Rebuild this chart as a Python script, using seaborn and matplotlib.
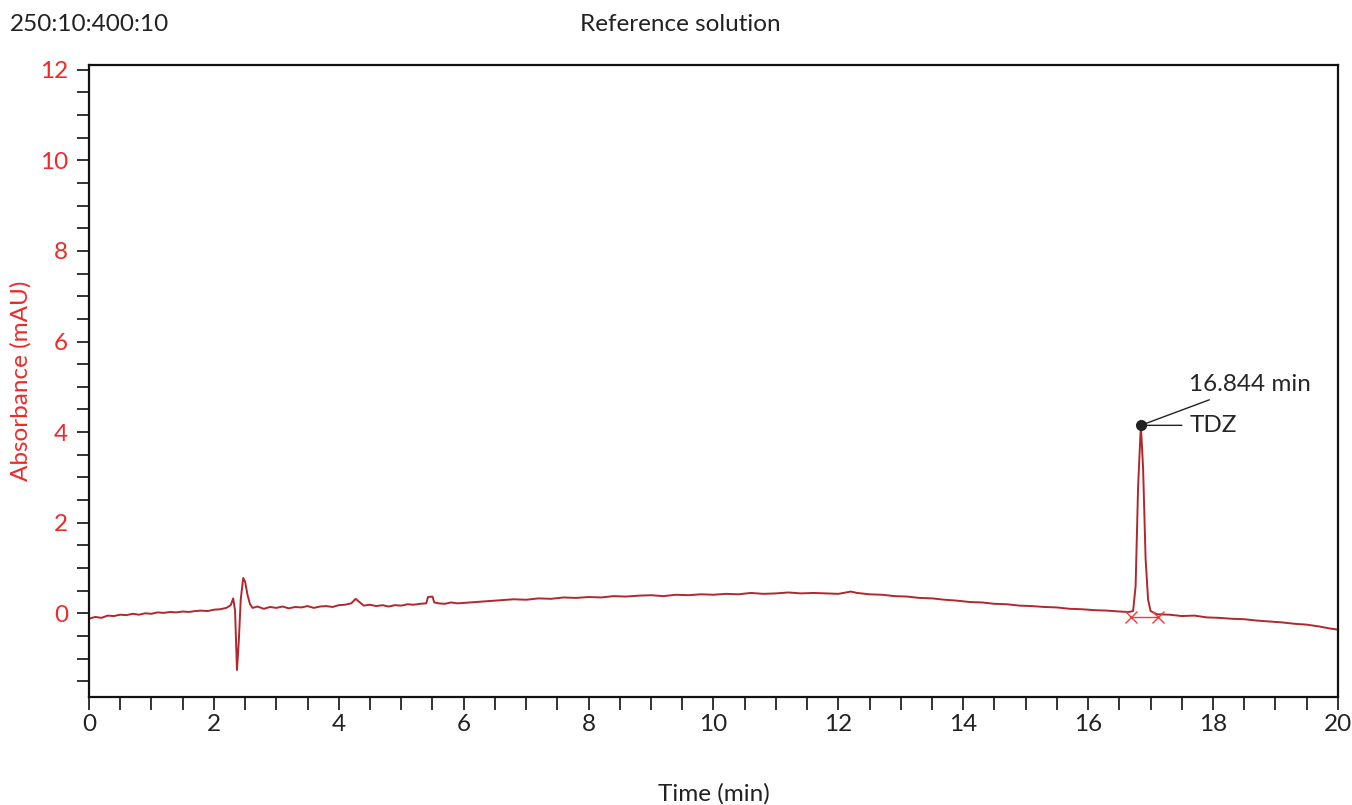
import matplotlib
matplotlib.use("Agg")
import matplotlib.pyplot as plt
from matplotlib.ticker import MultipleLocator
import pandas as pd
import seaborn as sns

# chromatogram trace (time in min, absorbance in mAU)
time_min = [
    0.00, 0.10, 0.20, 0.30, 0.40, 0.50, 0.60, 0.70, 0.80, 0.90,
    1.00, 1.10, 1.20, 1.30, 1.40, 1.50, 1.60, 1.70, 1.80, 1.90,
    2.00, 2.10, 2.20, 2.27, 2.31, 2.34, 2.37, 2.40, 2.43, 2.47,
    2.50, 2.54, 2.58, 2.62, 2.70, 2.80, 2.90, 3.00, 3.10, 3.20,
    3.30, 3.40, 3.50, 3.60, 3.70, 3.80, 3.90, 4.00, 4.10, 4.20,
    4.27, 4.33, 4.40, 4.50, 4.60, 4.70, 4.80, 4.90, 5.00, 5.10,
    5.20, 5.30, 5.40, 5.43, 5.50, 5.53, 5.60, 5.70, 5.80, 5.90,
    6.00, 6.20, 6.40, 6.60, 6.80, 7.00, 7.20, 7.40, 7.60, 7.80,
    8.00, 8.20, 8.40, 8.60, 8.80, 9.00, 9.20, 9.40, 9.60, 9.80,
    10.00, 10.20, 10.40, 10.60, 10.80, 11.00, 11.20, 11.40, 11.60, 11.80,
    12.00, 12.20, 12.30, 12.50, 12.70, 12.90, 13.10, 13.30, 13.50, 13.70,
    13.90, 14.10, 14.30, 14.50, 14.70, 14.90, 15.10, 15.30, 15.50, 15.70,
    15.90, 16.10, 16.30, 16.50, 16.65, 16.72, 16.76, 16.80, 16.844, 16.88,
    16.92, 16.96, 17.00, 17.10, 17.30, 17.50, 17.70, 17.90, 18.10, 18.30,
    18.50, 18.70, 18.90, 19.10, 19.30, 19.50, 19.70, 19.85, 20.00,
]
absorbance = [
    -0.12, -0.08, -0.10, -0.05, -0.06, -0.03, -0.04, -0.01, -0.03, 0.00,
    -0.01, 0.02, 0.01, 0.03, 0.02, 0.04, 0.03, 0.05, 0.06, 0.05,
    0.08, 0.09, 0.12, 0.18, 0.33, 0.05, -1.25, -0.60, 0.30, 0.78,
    0.70, 0.40, 0.20, 0.12, 0.15, 0.10, 0.14, 0.12, 0.15, 0.11,
    0.14, 0.13, 0.16, 0.12, 0.15, 0.16, 0.14, 0.18, 0.19, 0.22,
    0.32, 0.25, 0.17, 0.19, 0.16, 0.18, 0.15, 0.18, 0.17, 0.20,
    0.19, 0.21, 0.22, 0.36, 0.37, 0.24, 0.22, 0.21, 0.24, 0.22,
    0.23, 0.25, 0.27, 0.29, 0.31, 0.30, 0.33, 0.32, 0.35, 0.34,
    0.36, 0.35, 0.38, 0.37, 0.39, 0.40, 0.38, 0.41, 0.40, 0.42,
    0.41, 0.43, 0.42, 0.45, 0.43, 0.44, 0.46, 0.44, 0.45, 0.44,
    0.43, 0.48, 0.45, 0.42, 0.41, 0.38, 0.37, 0.34, 0.33, 0.30,
    0.28, 0.25, 0.24, 0.21, 0.20, 0.17, 0.16, 0.14, 0.13, 0.10,
    0.09, 0.07, 0.06, 0.04, 0.03, 0.05, 0.60, 2.80, 4.15, 3.20,
    1.20, 0.30, 0.05, -0.02, -0.03, -0.06, -0.05, -0.09, -0.10, -0.12,
    -0.13, -0.16, -0.18, -0.20, -0.23, -0.25, -0.29, -0.33, -0.36,
]

# integration baseline for the TDZ peak
baseline_time = [16.68, 17.12]
baseline_abs = [-0.08, -0.08]

peak_time = 16.844
peak_abs = 4.15
peak_label = "TDZ"

trace = pd.DataFrame({"time": time_min, "abs": absorbance})

sns.set_style("ticks")
plt.rcParams["font.family"] = ["Lato", "DejaVu Sans"]

fig = plt.figure(figsize=(13.52, 8.05), dpi=100)
ax = fig.add_axes([0.0658, 0.134, 0.9238, 0.785])

sns.lineplot(data=trace, x="time", y="abs", ax=ax, color="#b0282e", linewidth=1.4)
ax.plot(baseline_time, baseline_abs, color="#f03a3a", linewidth=1.0,
        marker="x", markersize=8, markeredgewidth=1.0)
ax.plot([peak_time], [peak_abs], "o", color="#222222", markersize=7, zorder=5)

# peak annotation lines
ax.annotate(f"{peak_time:.3f} min", xy=(peak_time, peak_abs), xytext=(17.62, 5.05),
            fontsize=17.5, va="center", ha="left",
            arrowprops=dict(arrowstyle="-", color="#222222", lw=1.0, shrinkA=3, shrinkB=0))
ax.annotate(peak_label, xy=(peak_time, peak_abs), xytext=(17.62, 4.15),
            fontsize=17.5, va="center", ha="left",
            arrowprops=dict(arrowstyle="-", color="#222222", lw=1.0, shrinkA=3, shrinkB=0))

ax.set_xlim(0, 20)
ax.set_ylim(-1.85, 12.1)
ax.xaxis.set_major_locator(MultipleLocator(2))
ax.xaxis.set_minor_locator(MultipleLocator(0.5))
ax.yaxis.set_minor_locator(MultipleLocator(0.5))
ax.set_yticks([0, 2, 4, 6, 8, 10, 12])

for side in ["top", "right", "bottom", "left"]:
    ax.spines[side].set_visible(True)
    ax.spines[side].set_linewidth(1.6)
    ax.spines[side].set_color("#111111")

ax.tick_params(axis="both", which="both", direction="out", length=9, width=1.4,
               color="#333333")
ax.tick_params(axis="x", labelsize=17.5, pad=3, labelcolor="#222222")
ax.tick_params(axis="y", labelsize=17.5, pad=6, labelcolor="#ee2a2a")

ax.set_xlabel("Time (min)", fontsize=17.5, color="#222222", labelpad=35)
ax.set_ylabel("Absorbance (mAU)", fontsize=17.5, color="#ee2a2a")
ax.yaxis.set_label_coords(-0.046, 0.5)

fig.text(0.503, 0.970, "Reference solution", fontsize=17.5, ha="center", va="center",
         color="#222222")
fig.text(0.007, 0.970, "250:10:400:10", fontsize=17.5, ha="left", va="center",
         color="#222222")

fig.savefig("out.png", dpi=100)
